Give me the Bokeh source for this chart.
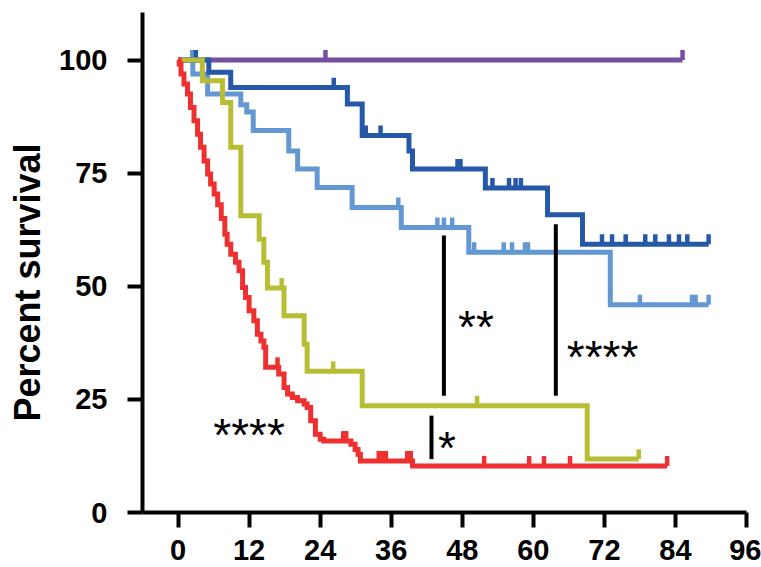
import numpy as np
from bokeh.plotting import figure
from bokeh.models import FixedTicker, LinearAxis, Range1d
from bokeh.embed import file_html
from bokeh.resources import INLINE
from bokeh.core.properties import value

# ---------------- data (months, percent survival) ----------------
purple_t = [0]
purple_s = [100]
purple_end = 85.2
purple_c = [24.9, 85.2]

lblue_t = [0, 2.5, 5.0, 10.6, 11.6, 12.7, 18.7, 20.2, 23.5, 29.4, 37.7, 49.1, 73.0]
lblue_s = [100, 96.9, 92.5, 90.1, 88.5, 84.4, 79.9, 75.9, 71.8, 67.4, 63.0, 57.5, 45.9]
lblue_end = 89.6
lblue_c = [2.4, 37.2, 43.8, 44.9, 46.3, 50.0, 55.0, 56.4, 58.6, 59.1, 78.0, 86.8, 87.4, 89.6]

dblue_t = [0, 5.2, 8.9, 28.6, 31.1, 39.0, 39.6, 51.9, 62.4, 68.3]
dblue_s = [100, 97.3, 93.9, 90.3, 83.3, 79.9, 75.9, 71.7, 65.8, 59.3]
dblue_end = 89.6
dblue_c = [3.0, 26.3, 31.7, 34.2, 47.2, 47.7, 53.1, 55.9, 57.0, 57.9, 71.6, 73.3,
           75.6, 78.9, 80.6, 82.9, 84.6, 86.0, 89.6]

yellow_t = [0, 4.1, 7.5, 8.9, 10.6, 13.7, 14.5, 15.1, 17.9, 21.3, 21.8, 31.1, 69.1]
yellow_s = [100, 95.4, 90.6, 80.7, 65.6, 60.4, 55.3, 49.6, 43.5, 37.2, 31.2, 23.6, 11.8]
yellow_end = 77.8
yellow_c = [17.5, 26.2, 50.5, 77.8]

red_t = [0, 0.2, 0.5, 1.0, 1.6, 2.1, 2.7, 3.3, 3.8, 4.4, 5.0, 5.5, 6.1, 6.7, 7.3,
         7.9, 8.3, 8.9, 9.7, 10.3, 10.9, 11.4, 12.0, 12.8, 13.4, 14.0, 14.5, 14.8,
         17.0, 17.9, 18.5, 19.3, 20.2, 21.3, 21.8, 22.4, 23.2, 24.0, 24.6, 29.2,
         29.9, 30.4, 30.8, 39.6]
red_s = [100, 99.1, 96.9, 94.7, 92.5, 89.5, 86.6, 83.6, 80.7, 77.7, 74.8, 72.6, 70.4,
         68.0, 65.0, 61.5, 59.3, 57.1, 55.3, 53.4, 49.7, 47.5, 44.6, 42.4, 39.4, 37.9,
         36.5, 32.1, 30.6, 27.6, 26.2, 25.4, 24.7, 24.0, 23.2, 20.3, 17.3, 16.2, 15.8,
         15.1, 13.9, 12.9, 11.4, 10.3]
red_end = 82.6
red_c = [16.8, 27.9, 28.4, 33.9, 34.5, 35.1, 38.7, 39.3, 51.7, 59.3, 61.8, 66.2, 82.6]

x_ticks = [0, 12, 24, 36, 48, 60, 72, 84, 96]
y_ticks = [0, 25, 50, 75, 100]

bar_x = [44.9, 63.8, 42.8]
bar_y0 = [25.8, 25.8, 11.8]
bar_y1 = [61.2, 63.7, 21.4]
star_text = ["**", "****", "*", "****"]
star_x = [50.3, 71.7, 45.4, 12.0]
star_y = [42.5, 36.0, 15.7, 18.6]

y_title = "Percent survival"

# ---------------- figure ----------------
p = figure(width=761, height=567, x_range=Range1d(-6.0, 96), y_range=Range1d(0, 110.5),
           output_backend="svg", toolbar_location=None,
           min_border_left=142, min_border_right=15, min_border_top=12, min_border_bottom=55)
p.outline_line_color = None
p.grid.visible = False
p.background_fill_color = "white"
p.border_fill_color = "white"

FONT = "Liberation Sans"
for ax in (p.xaxis, p.yaxis):
    ax.axis_line_width = 4
    ax.axis_line_color = "black"
    ax.major_tick_line_width = 4
    ax.major_tick_line_color = "black"
    ax.major_tick_out = 15
    ax.major_tick_in = 0
    ax.minor_tick_line_color = None
    ax.major_label_text_font = FONT
    ax.major_label_text_font_style = "bold"
    ax.major_label_text_font_size = "29px"
    ax.major_label_text_color = "black"
p.xaxis.ticker = FixedTicker(ticks=x_ticks)
p.yaxis.ticker = FixedTicker(ticks=y_ticks)
p.xaxis.major_label_standoff = 12
p.yaxis.major_label_standoff = 20

# outer axis carrying only the y title; trailing no-break spaces move the
# centred title down to where the reference has it
title_axis = LinearAxis(ticker=FixedTicker(ticks=[]),
                        axis_label=y_title + "\u00a0" * 4, axis_label_text_font=FONT,
                        axis_label_text_font_style="bold", axis_label_text_font_size="36px",
                        axis_label_text_color="black", axis_label_standoff=9,
                        axis_line_color=None, major_tick_line_color=None,
                        minor_tick_line_color=None, major_tick_out=0, major_tick_in=0,
                        major_label_standoff=0, major_label_text_color=None)
p.add_layout(title_axis, "left")

curves = [
    (purple_t, purple_s, purple_end, purple_c, "#784FA0"),
    (lblue_t, lblue_s, lblue_end, lblue_c, "#6398D2"),
    (dblue_t, dblue_s, dblue_end, dblue_c, "#2559A7"),
    (yellow_t, yellow_s, yellow_end, yellow_c, "#B8BE34"),
    (red_t, red_s, red_end, red_c, "#EE3130"),
]
TICK_H = 2.2
for t, s, end, cens, col in curves:
    xs = list(t) + [end]
    ys = list(s) + [s[-1]]
    p.step(xs, ys, mode="after", line_width=5, line_color=col, line_join="miter")
    idx = np.searchsorted(np.array(t), np.array(cens), side="right") - 1
    sv = np.array(s)[idx]
    p.segment(x0=cens, y0=sv, x1=cens, y1=sv + TICK_H, line_width=4.5, line_color=col)

p.segment(x0=bar_x, y0=bar_y0, x1=bar_x, y1=bar_y1, line_width=4, line_color="black")
p.text(x=star_x, y=star_y, text=star_text, text_font=value(FONT), text_font_size="46px",
       text_align="center", text_baseline="middle", text_color="black", y_offset=7)

open("out.html", "w").write(file_html(p, INLINE))
